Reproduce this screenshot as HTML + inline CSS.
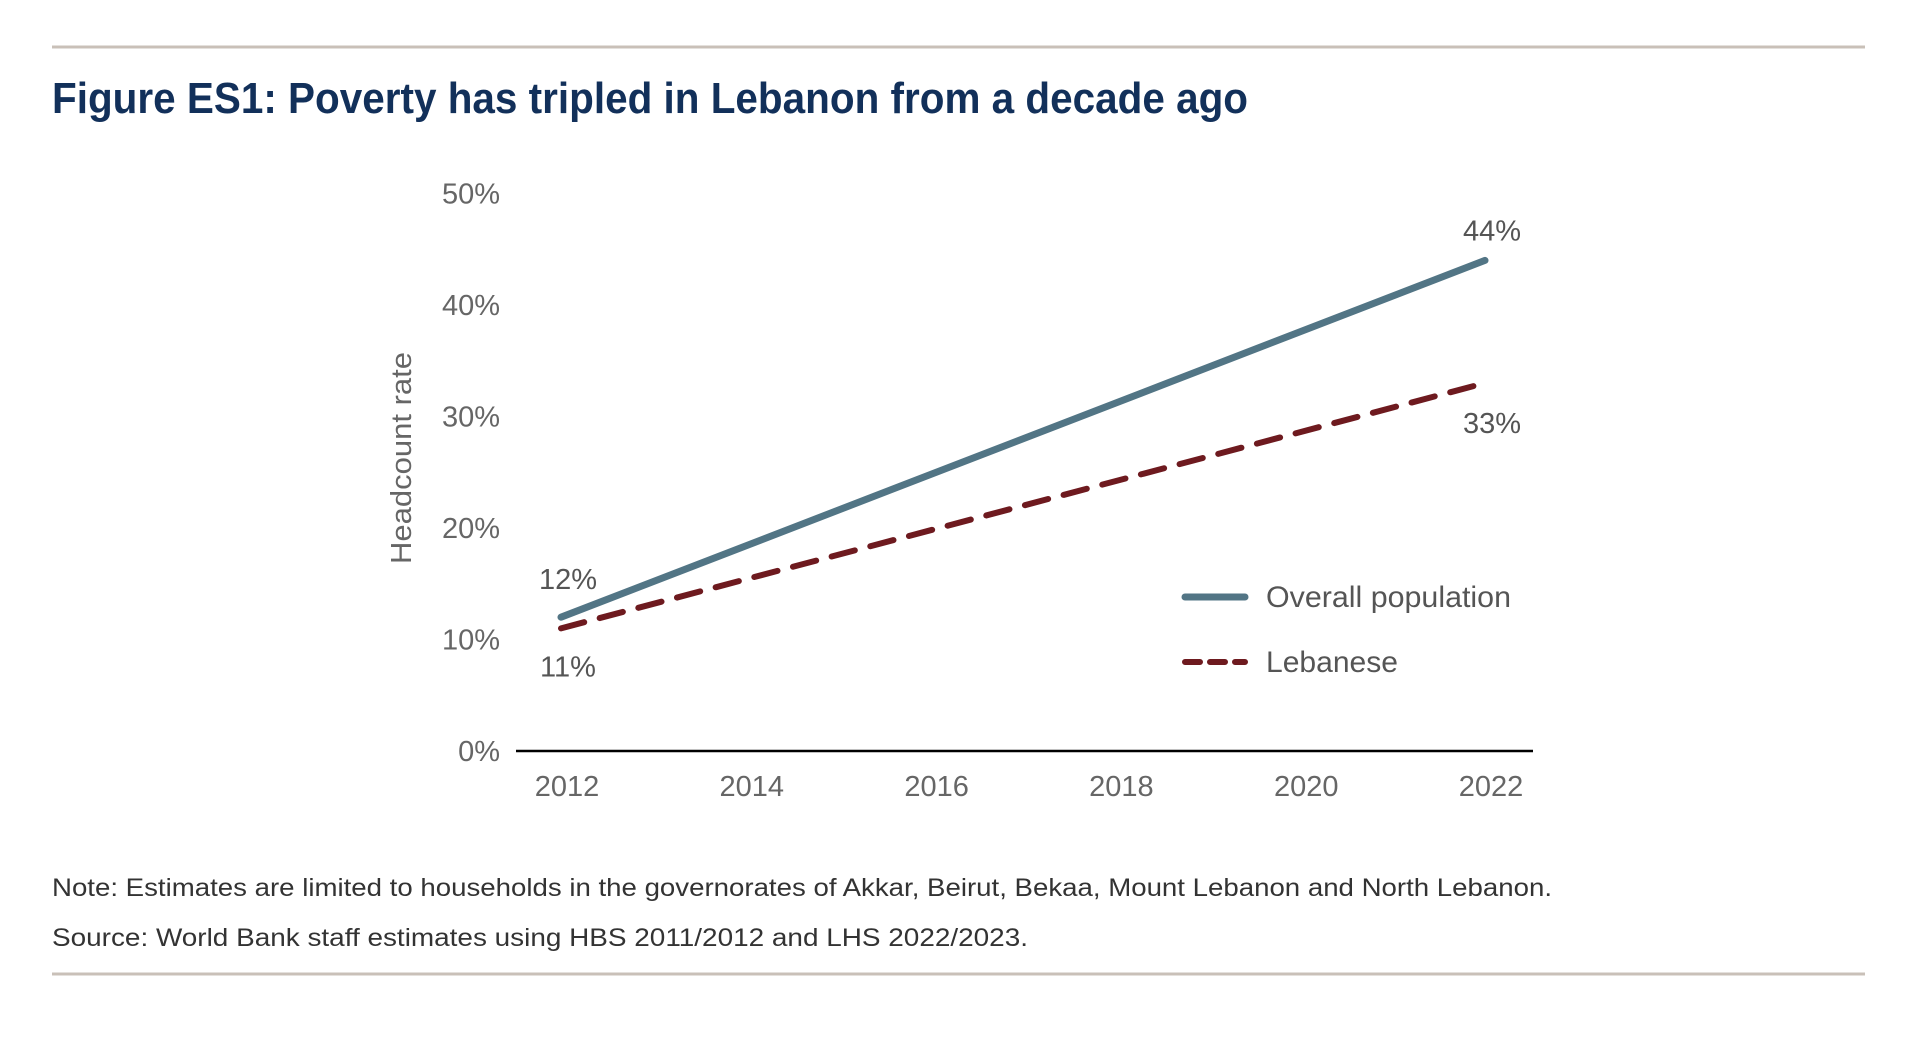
<!DOCTYPE html>
<html><head><meta charset="utf-8"><style>
html,body{margin:0;padding:0;background:#fff;width:1924px;height:1044px;overflow:hidden}
svg text{font-family:"Liberation Sans Narrow","Liberation Sans",sans-serif}
</style></head><body>
<svg id="chart" width="1924" height="1044" xmlns="http://www.w3.org/2000/svg">
<line x1="52" y1="47" x2="1865" y2="47" stroke="#c9c0b8" stroke-width="3"/>
<line x1="52" y1="974" x2="1865" y2="974" stroke="#c9c0b8" stroke-width="3"/>
<text x="52" y="113" font-size="44" font-weight="bold" fill="#12305a" textLength="1196" lengthAdjust="spacingAndGlyphs">Figure ES1: Poverty has tripled in Lebanon from a decade ago</text>
<text transform="translate(411,458) rotate(-90)" text-anchor="middle" font-size="29" fill="#666" font-family="Liberation Sans" textLength="212" lengthAdjust="spacingAndGlyphs">Headcount rate</text>
<g id="yticks"></g><g id="xticks"></g><g id="series"></g>
<line x1="516" y1="751" x2="1533" y2="751" stroke="#000" stroke-width="2.5"/>
<line x1="1185" y1="597" x2="1245" y2="597" stroke="#527585" stroke-width="7" stroke-linecap="round"/>
<text x="1266" y="607" font-size="30" fill="#555" textLength="245" lengthAdjust="spacingAndGlyphs">Overall population</text>
<line x1="1185" y1="662" x2="1245" y2="662" stroke="#6e1a1f" stroke-width="6" stroke-dasharray="15 10" stroke-linecap="round"/>
<text x="1266" y="672" font-size="30" fill="#555" textLength="132" lengthAdjust="spacingAndGlyphs">Lebanese</text>
<text x="52" y="896" font-size="25" fill="#333" textLength="1500" lengthAdjust="spacingAndGlyphs">Note: Estimates are limited to households in the governorates of Akkar, Beirut, Bekaa, Mount Lebanon and North Lebanon.</text>
<text x="52" y="946" font-size="25" fill="#333" textLength="976" lengthAdjust="spacingAndGlyphs">Source: World Bank staff estimates using HBS 2011/2012 and LHS 2022/2023.</text>
</svg>
<script>
const years=[2012,2022];
const xTickLabels=["2012","2014","2016","2018","2020","2022"];
const yTickValues=[0,10,20,30,40,50];
const overall=[12,44];
const lebanese=[11,33];
const NS="http://www.w3.org/2000/svg";
function x(yr){return 561+(yr-2012)*92.4;}
function y(v){return 751-v*11.15;}
function mk(tag,attrs,parent,txt){const e=document.createElementNS(NS,tag);for(const k in attrs)e.setAttribute(k,attrs[k]);if(txt!==undefined)e.textContent=txt;document.getElementById(parent).appendChild(e);return e;}
yTickValues.forEach(v=>{const t=mk('text',{x:500,y:y(v)+10,'text-anchor':'end','font-size':29,fill:'#666','font-family':'Liberation Sans'},'yticks',v+'%');

});
xTickLabels.forEach(l=>{const t=mk('text',{x:x(+l)+6,y:796,'text-anchor':'middle','font-size':29,fill:'#666','font-family':'Liberation Sans'},'xticks',l);

});
const p1=mk('line',{x1:x(years[0]),y1:y(overall[0]),x2:x(years[1]),y2:y(overall[1]),stroke:'#527585','stroke-width':7,'stroke-linecap':'round'},'series');


const p2=mk('line',{x1:x(years[0]),y1:y(lebanese[0]),x2:x(years[1]),y2:y(lebanese[1]),stroke:'#6e1a1f','stroke-width':6,'stroke-dasharray':'24 16','stroke-linecap':'round'},'series');


const labs=[[years[0],overall[0],-28],[years[1],overall[1],-20],[years[0],lebanese[0],48],[years[1],lebanese[1],50]];
labs.forEach(a=>{const t=mk('text',{x:x(a[0])+7,y:y(a[1])+a[2],'text-anchor':'middle','font-size':29,fill:'#555','font-family':'Liberation Sans'},'series',a[1]+'%');

});
</script>
</body></html>
